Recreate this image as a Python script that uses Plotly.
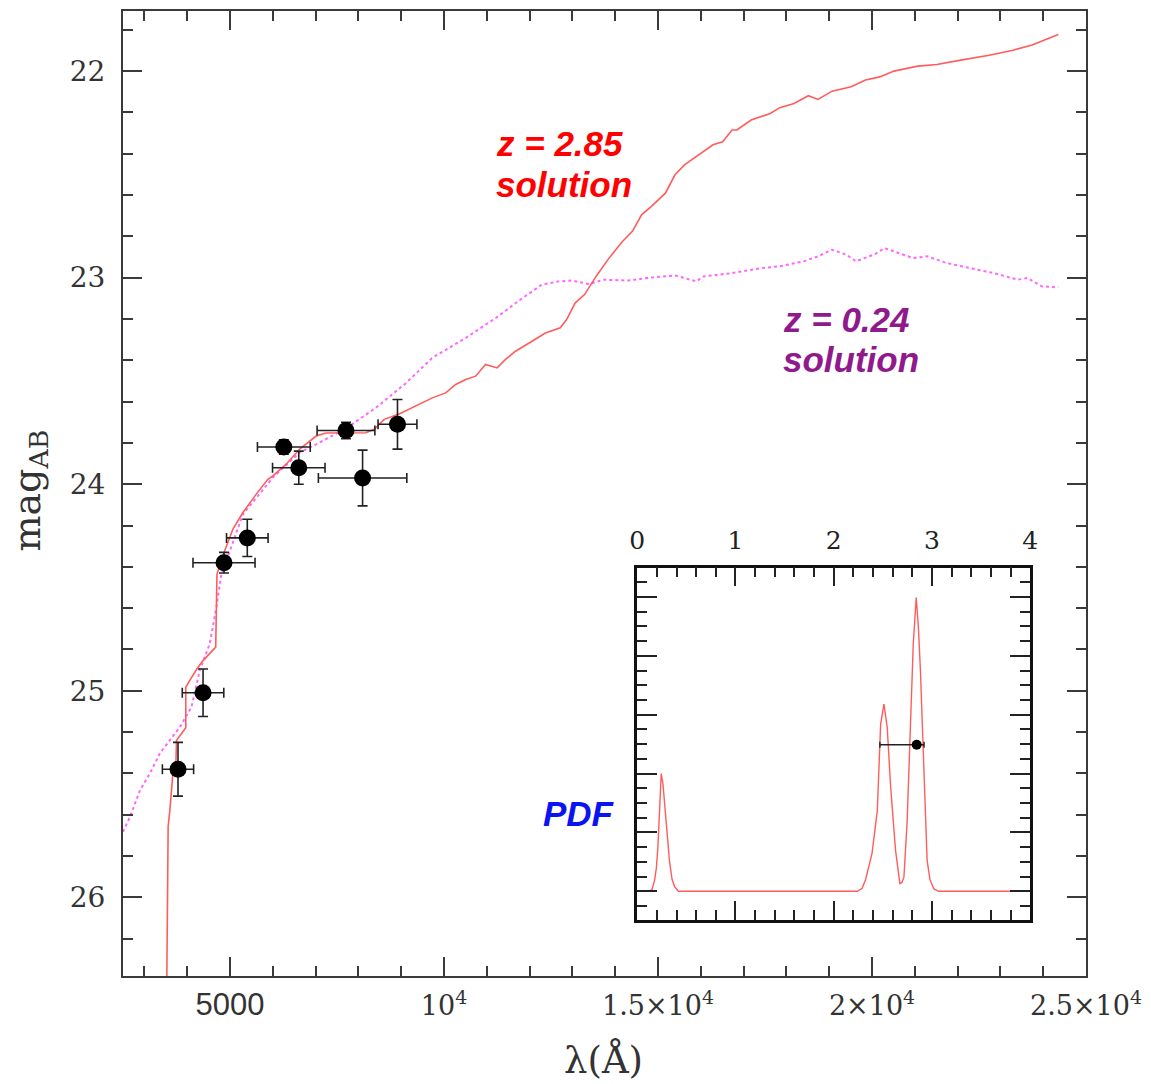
import plotly.graph_objects as go

# ---------------- data ----------------
# photometric points (wavelength in Angstrom, AB magnitude)
phot_lam = [3785, 4370, 4860, 5404, 6258, 6607, 7710, 8098, 8913]
phot_mag = [25.38, 25.01, 24.38, 24.26, 23.82, 23.92, 23.74, 23.97, 23.71]
phot_lam_err = [365, 485, 725, 485, 617, 613, 675, 1033, 454]
phot_mag_err = [0.13, 0.115, 0.05, 0.09, 0.035, 0.08, 0.04, 0.135, 0.12]

# z = 2.85 template (solid red)
hiz_lam = [3515, 3555, 3595, 3634, 3672, 3734, 3751, 3967, 3967, 4061, 4217, 4370, 4666, 4696,
           4876, 5069, 5302, 5614, 5884, 6001, 6313, 6623, 7012, 7245, 7555, 8176, 8370, 8602,
           8952, 9341, 9728, 10040, 10273, 10506, 10738, 10971, 11242, 11437, 11670, 12057,
           12369, 12718, 12865, 13063, 13284, 13552, 13843, 14169, 14402, 14616, 14840, 15173,
           15397, 15618, 15953, 16286, 16510, 16731, 16843, 17176, 17621, 17845, 18178, 18513,
           18735, 19068, 19512, 19848, 20181, 20514, 21070, 21516, 22072, 22741, 23297, 23740,
           24353]
hiz_mag = [26.6, 25.656, 25.578, 25.49, 25.385, 25.361, 25.24, 25.179, 24.983, 24.95, 24.897,
           24.854, 24.789, 24.435, 24.322, 24.217, 24.137, 24.048, 23.976, 23.96, 23.903, 23.831,
           23.767, 23.752, 23.751, 23.751, 23.734, 23.686, 23.66, 23.622, 23.582, 23.558, 23.517,
           23.493, 23.477, 23.42, 23.437, 23.396, 23.356, 23.308, 23.268, 23.243, 23.203, 23.123,
           23.082, 22.994, 22.909, 22.825, 22.776, 22.696, 22.656, 22.591, 22.502, 22.454, 22.406,
           22.357, 22.342, 22.285, 22.285, 22.237, 22.205, 22.177, 22.157, 22.119, 22.137, 22.097,
           22.076, 22.043, 22.028, 22.0, 21.976, 21.968, 21.947, 21.923, 21.899, 21.874, 21.823]

# z = 0.24 template (dotted magenta)
loz_lam = [2500, 2663, 2896, 3129, 3362, 3595, 3828, 4100, 4293, 4526, 4682, 4799, 4915, 5302,
           6001, 6623, 7012, 7710, 8409, 9108, 9728, 10506, 11211, 11794, 12283, 12679, 12981,
           13394, 13727, 14309, 14728, 15397, 15898, 16065, 16731, 17400, 17845, 18402, 18735,
           19068, 19403, 19624, 20069, 20293, 20514, 20959, 21292, 21739, 22296, 22850, 23407,
           23630, 23964, 24353]
loz_mag = [25.683, 25.611, 25.482, 25.4, 25.303, 25.24, 25.176, 25.079, 24.902, 24.773, 24.596,
           24.435, 24.371, 24.145, 23.968, 23.847, 23.807, 23.73, 23.63, 23.511, 23.388, 23.292,
           23.195, 23.105, 23.034, 23.018, 23.014, 23.031, 23.01, 23.014, 23.002, 22.989, 23.018,
           22.994, 22.978, 22.954, 22.945, 22.921, 22.897, 22.865, 22.889, 22.921, 22.886, 22.857,
           22.873, 22.905, 22.897, 22.929, 22.954, 22.978, 23.01, 23.002, 23.042, 23.047]

# redshift probability distribution (inset)
pdf_z = [0.0, 0.12, 0.15, 0.177, 0.195, 0.21, 0.228, 0.244, 0.262, 0.278, 0.3, 0.329, 0.355,
         0.38, 0.42, 2.24, 2.29, 2.325, 2.39, 2.444, 2.478, 2.512, 2.545, 2.58, 2.63, 2.674,
         2.695, 2.715, 2.748, 2.782, 2.81, 2.84, 2.862, 2.883, 2.918, 2.951, 2.98, 3.02, 3.07, 4.0]
pdf_p = [0.0, 0.0, 0.003, 0.019, 0.04, 0.075, 0.14, 0.2, 0.182, 0.15, 0.1, 0.05, 0.02,
         0.008, 0.0, 0.0, 0.005, 0.02, 0.064, 0.137, 0.284, 0.318, 0.278, 0.177, 0.069, 0.013,
         0.015, 0.024, 0.12, 0.29, 0.42, 0.499, 0.45, 0.375, 0.205, 0.053, 0.02, 0.004, 0.0, 0.0]
zbest = [2.845]
zbest_p = [0.249]
zbest_errplus = [0.075]
zbest_errminus = [0.375]

x_tickvals = [5000, 10000, 15000, 20000, 25000]
x_ticktext = ['<span style="font-family:Liberation Sans;font-size:31px">5000</span>',
              '10<sup>4</sup>', '1.5×10<sup>4</sup>', '2×10<sup>4</sup>', '2.5×10<sup>4</sup>']
y_tickvals = [22, 23, 24, 25, 26]
inset_tickvals = [0, 1, 2, 3, 4]

# ---------------- figure ----------------
RED = '#ff5c5c'
MAG = '#ff66ff'
AXC = '#3a3a3a'

fig = go.Figure()

fig.add_trace(go.Scatter(x=loz_lam, y=loz_mag, mode='lines',
                         line=dict(color=MAG, width=2, dash='dot'), showlegend=False))
fig.add_trace(go.Scatter(x=hiz_lam, y=hiz_mag, mode='lines',
                         line=dict(color=RED, width=1.6), showlegend=False))
fig.add_trace(go.Scatter(x=phot_lam, y=phot_mag, mode='markers',
                         marker=dict(color='black', size=17),
                         error_x=dict(type='data', array=phot_lam_err, color='#222', thickness=1.6, width=5),
                         error_y=dict(type='data', array=phot_mag_err, color='#222', thickness=1.6, width=5),
                         showlegend=False))

fig.add_trace(go.Scatter(x=pdf_z, y=pdf_p, mode='lines', xaxis='x2', yaxis='y2',
                         line=dict(color=RED, width=1.4), showlegend=False))
fig.add_trace(go.Scatter(x=zbest, y=zbest_p, mode='markers', xaxis='x2', yaxis='y2',
                         marker=dict(color='black', size=10),
                         error_x=dict(type='data', symmetric=False, array=zbest_errplus,
                                      arrayminus=zbest_errminus, color='#222', thickness=1.4, width=3),
                         showlegend=False))

serif = 'DejaVu Serif'

fig.update_layout(
    width=1151, height=1084, autosize=False,
    margin=dict(l=123, r=62, t=9, b=108),
    paper_bgcolor='white', plot_bgcolor='white',
    xaxis=dict(range=[2500, 25000], showgrid=False, zeroline=False,
               showline=True, linecolor=AXC, linewidth=2, mirror='allticks',
               ticks='inside', ticklen=19, tickwidth=1.5, tickcolor=AXC,
               tickmode='array', tickvals=x_tickvals, ticktext=x_ticktext,
               tickfont=dict(family=serif, size=27, color='#333'),
               ticklabelstandoff=5,
               minor=dict(ticks='inside', ticklen=10, tickwidth=1.5, tickcolor=AXC,
                          dtick=1000, tick0=0, showgrid=False)),
    yaxis=dict(range=[26.381, 21.709], showgrid=False, zeroline=False,
               showline=True, linecolor=AXC, linewidth=2, mirror='allticks',
               ticks='inside', ticklen=19, tickwidth=1.5, tickcolor=AXC,
               tickmode='array', tickvals=y_tickvals,
               tickfont=dict(family=serif, size=28, color='#333'),
               ticklabelstandoff=10,
               minor=dict(ticks='inside', ticklen=10, tickwidth=1.5, tickcolor=AXC,
                          dtick=0.2, tick0=0, showgrid=False)),
    xaxis2=dict(domain=[0.534, 0.942], anchor='y2', side='top', range=[0, 4],
                showgrid=False, zeroline=False, showline=True, linecolor='#111',
                linewidth=2.5, mirror='allticks', ticks='inside', ticklen=19,
                tickwidth=1.5, tickcolor='#222', tickmode='array', tickvals=inset_tickvals,
                tickfont=dict(family=serif, size=25, color='#222'), ticklabelstandoff=6,
                minor=dict(ticks='inside', ticklen=10, tickwidth=1.5, tickcolor='#222',
                           dtick=0.2, tick0=0, showgrid=False)),
    yaxis2=dict(domain=[0.0579, 0.4233], anchor='x2', range=[-0.049, 0.55],
                showgrid=False, zeroline=False, showline=True, linecolor='#111',
                linewidth=2.5, mirror='allticks', ticks='inside', ticklen=20,
                tickwidth=1.5, tickcolor='#222', dtick=0.1, tick0=0,
                showticklabels=False,
                minor=dict(ticks='inside', ticklen=10, tickwidth=1.5, tickcolor='#222',
                           dtick=0.025, tick0=0, showgrid=False)),
)

lab_font = dict(family='Liberation Sans', size=35, weight='bold', style='italic')
annots = [
    dict(text='z = 2.85', x=0.385, y=0.8625, color='#ff0000'),
    dict(text='solution', x=0.385, y=0.820, color='#ff0000'),
    dict(text='z = 0.24', x=0.683, y=0.680, color='#901a8c'),
    dict(text='solution', x=0.683, y=0.639, color='#901a8c'),
    dict(text='PDF', x=0.434, y=0.1686, color='#0a14f0'),
]
for a in annots:
    fig.add_annotation(text=a['text'], x=a['x'], y=a['y'], xref='paper', yref='paper',
                       xanchor='left', yanchor='middle', showarrow=False,
                       font=dict(lab_font, color=a['color']))

fig.add_annotation(text='mag<sub>AB</sub>', x=-0.097, y=0.5026, xref='paper', yref='paper',
                   textangle=-90, showarrow=False, xanchor='center', yanchor='middle',
                   font=dict(family=serif, size=38, color='#333'))
fig.add_annotation(text='λ(Å)', x=0.499, y=-0.0869, xref='paper', yref='paper',
                   showarrow=False, xanchor='center', yanchor='middle',
                   font=dict(family=serif, size=37, color='#333'))

fig.write_html('out.html')
